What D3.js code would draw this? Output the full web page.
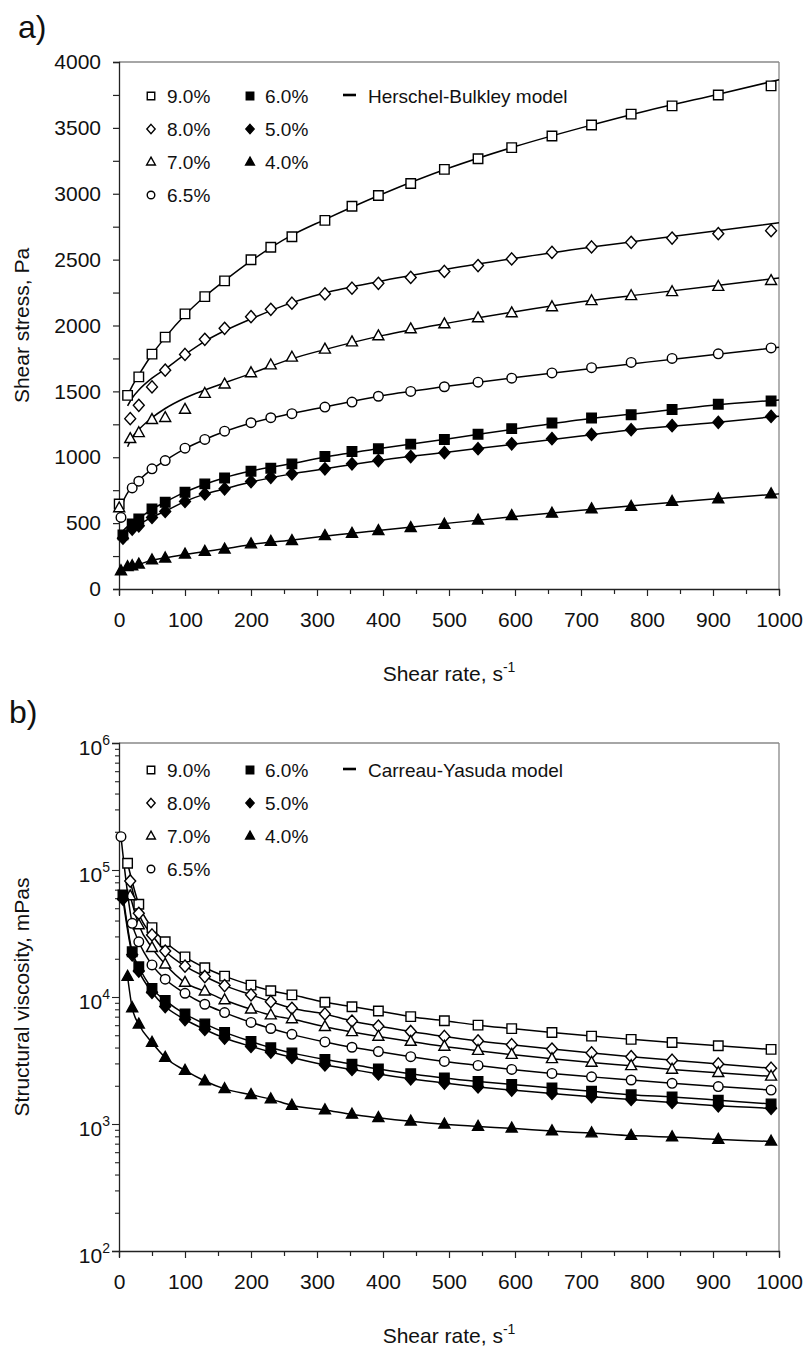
<!DOCTYPE html>
<html><head><meta charset="utf-8">
<script src="https://cdn.jsdelivr.net/npm/d3@7"></script>
<style>
body{margin:0;background:#fff}
svg text{font-family:"Liberation Sans",Arial,sans-serif;fill:#111}
</style>
</head><body>
<svg id="c" width="805" height="1350"></svg>
<script>
// ---------- data ----------
const RATES = [0.3, 3, 6, 13, 17, 20, 30, 50, 70, 100, 130, 160, 200, 230, 262, 312, 353, 393, 442, 493, 544, 595, 656, 716, 776, 838, 908, 988];
const LABELS = ["9.0%", "8.0%", "7.0%", "6.5%", "6.0%", "5.0%", "4.0%"];
const SHAPES = ["square", "diamond", "triangle", "circle", "square", "diamond", "triangle"];
const FILLED = [false, false, false, false, true, true, true];
const X_TICK_LABELS = [0, 100, 200, 300, 400, 500, 600, 700, 800, 900, 1000];
const Y_TICK_LABELS_A = [0, 500, 1000, 1500, 2000, 2500, 3000, 3500, 4000];
const Y_DECADES_B = [100, 1000, 10000, 100000, 1000000];

// panel a: shear stress, Pa
const stress90 = [645, null, null, 1470, null, null, 1610, 1783, 1912, 2088, 2219, 2339, 2499, 2594, 2674, 2798, 2905, 2987, 3078, 3185, 3266, 3350, 3438, 3522, 3604, 3667, 3749, 3819];
const stress80 = [null, null, null, null, 1293, null, 1394, 1534, 1661, 1780, 1895, 1979, 2067, 2123, 2169, 2240, 2283, 2320, 2365, 2410, 2455, 2505, 2555, 2596, 2631, 2664, 2697, 2720];
const stress70 = [615, null, null, null, 1140, null, 1185, 1285, 1300, 1362, 1483, 1554, 1640, 1699, 1758, 1819, 1874, 1920, 1973, 2011, 2057, 2095, 2141, 2187, 2225, 2255, 2295, 2340];
const stress65 = [null, 543, null, null, null, 767, 818, 912, 975, 1069, 1135, 1198, 1262, 1300, 1331, 1381, 1419, 1463, 1500, 1535, 1570, 1600, 1640, 1680, 1720, 1750, 1785, 1830];
const stress60 = [null, null, 411, null, null, 493, 531, 607, 658, 734, 798, 843, 894, 917, 950, 1006, 1044, 1064, 1100, 1135, 1175, 1217, 1260, 1298, 1323, 1362, 1402, 1427];
const stress50 = [null, null, 386, null, null, 455, 480, 543, 589, 665, 722, 760, 815, 848, 874, 912, 950, 975, 1005, 1035, 1065, 1102, 1141, 1173, 1209, 1240, 1265, 1310];
const stress40 = [null, 137, null, 168, null, 175, 188, 219, 234, 264, 284, 302, 341, 360, 366, 404, 421, 442, 465, 490, 522, 556, 574, 607, 625, 663, 683, 721];

// Herschel-Bulkley model curves
const MODEL_RATES_A = [0, 3, 6, 13, 20, 30, 50, 70, 100, 130, 160, 200, 260, 310, 400, 500, 600, 700, 800, 900, 1000];
const hb90 = [null, null, null, 1470, 1540, 1625, 1780, 1910, 2080, 2220, 2340, 2490, 2680, 2800, 3000, 3195, 3358, 3500, 3630, 3745, 3865];
const hb80 = [null, null, null, 1390, 1450, 1510, 1600, 1670, 1780, 1880, 1960, 2050, 2170, 2245, 2340, 2430, 2510, 2585, 2650, 2715, 2780];
const hb70 = [null, null, null, 1080, 1150, 1210, 1300, 1370, 1450, 1510, 1565, 1635, 1745, 1815, 1925, 2020, 2105, 2180, 2240, 2300, 2360];
const hb65 = [null, 543, 650, 730, 775, 825, 910, 975, 1065, 1135, 1195, 1260, 1330, 1380, 1468, 1540, 1605, 1665, 1722, 1778, 1835];
const hb60 = [395, 420, 440, 475, 500, 535, 605, 660, 735, 795, 845, 895, 950, 1000, 1070, 1140, 1215, 1285, 1340, 1395, 1435];
const hb50 = [370, 395, 415, 445, 470, 490, 545, 590, 665, 720, 760, 812, 872, 910, 980, 1040, 1100, 1162, 1220, 1262, 1312];
const hb40 = [125, 140, 150, 165, 176, 188, 218, 236, 262, 285, 305, 338, 370, 400, 447, 500, 550, 597, 641, 683, 722];

// panel b: structural viscosity, mPas
const visc90 = [null, null, null, 113000, null, null, 53700, 35200, 27200, 20700, 17000, 14600, 12400, 11200, 10400, 9080, 8390, 7760, 7000, 6500, 6000, 5640, 5250, 4920, 4640, 4380, 4130, 3870];
const visc80 = [null, null, null, null, 81900, null, 45600, 30800, 23000, 17500, 14500, 12300, 10400, 9190, 8150, 7350, 6470, 5900, 5350, 4890, 4510, 4210, 3890, 3630, 3390, 3180, 2970, 2750];
const visc70 = [null, null, null, null, 62400, null, 36900, 24400, 18100, 13000, 11100, 9470, 8000, 7200, 6710, 5830, 5310, 4890, 4460, 4080, 3780, 3520, 3260, 3050, 2870, 2690, 2530, 2370];
const visc65 = [null, 183000, null, null, null, 38000, 27200, 17900, 13800, 10700, 8770, 7540, 6310, 5650, 5080, 4430, 4020, 3720, 3390, 3110, 2890, 2690, 2500, 2350, 2220, 2090, 1970, 1850];
const visc60 = [null, null, 63500, null, null, 22700, 17300, 11700, 9400, 7340, 6140, 5270, 4470, 3990, 3630, 3220, 2960, 2710, 2490, 2300, 2160, 2050, 1920, 1810, 1700, 1630, 1540, 1440];
const visc50 = [null, null, 59000, null, null, 21500, 16000, 10900, 8410, 6650, 5550, 4750, 4080, 3690, 3340, 2920, 2690, 2480, 2270, 2100, 1960, 1850, 1740, 1640, 1560, 1480, 1390, 1330];
const visc40 = [null, null, null, 14500, null, 8200, 6100, 4380, 3340, 2640, 2180, 1890, 1700, 1570, 1400, 1290, 1190, 1120, 1050, 994, 955, 925, 880, 848, 810, 790, 755, 730];

const STRESS = [stress90, stress80, stress70, stress65, stress60, stress50, stress40];
const HB = [hb90, hb80, hb70, hb65, hb60, hb50, hb40];
const VISC = [visc90, visc80, visc70, visc65, visc60, visc50, visc40];

// ---------- layout ----------
const svg = d3.select("#c");
const X0 = 119, X1 = 779;
const PA = {top: 62, bottom: 589};
const PB = {top: 743, bottom: 1251};

const x = d3.scaleLinear().domain([0, 1000]).range([X0, X1]);
const yA = d3.scaleLinear().domain([0, 4000]).range([PA.bottom, PA.top]);
const yB = d3.scaleLog().domain([100, 1e6]).range([PB.bottom, PB.top]);

function markerPath(shape, s) {
  const p = d3.path();
  if (shape === "square") { p.rect(-s / 2, -s / 2, s, s); }
  else if (shape === "diamond") { p.moveTo(0, -s * 0.58); p.lineTo(s * 0.52, 0); p.lineTo(0, s * 0.58); p.lineTo(-s * 0.52, 0); p.closePath(); }
  else if (shape === "triangle") { const h = s * 0.9; p.moveTo(0, -h * 0.62); p.lineTo(s / 2, h * 0.38); p.lineTo(-s / 2, h * 0.38); p.closePath(); }
  else { p.arc(0, 0, s / 2, 0, 2 * Math.PI); }
  return p.toString();
}
const MSIZE = {square: 9.5, diamond: 10.5, triangle: 11, circle: 9.6};
const LSIZE = {square: 7.5, diamond: 8, triangle: 8.8, circle: 7.6};

function frame(P) {
  const g = svg.append("g");
  g.append("line").attr("x1", X0).attr("x2", X1).attr("y1", P.top).attr("y2", P.top).attr("stroke", "#888").attr("stroke-width", 1.3);
  g.append("line").attr("x1", X1).attr("x2", X1).attr("y1", P.top).attr("y2", P.bottom).attr("stroke", "#888").attr("stroke-width", 1.3);
}

function xAxis(P) {
  const gx = svg.append("g").attr("transform", `translate(0,${P.bottom})`)
    .call(d3.axisBottom(x).tickValues(d3.range(0, 1001, 50)).tickSize(6).tickPadding(17)
      .tickFormat(d => X_TICK_LABELS.includes(d) ? d : ""));
  gx.select(".domain").attr("stroke", "#222").attr("stroke-width", 1.3);
  gx.selectAll(".tick line").attr("stroke", "#222").attr("stroke-width", 1.2)
    .attr("y2", d => d % 100 === 0 ? 7 : 5);
  gx.selectAll(".tick text").attr("font-size", 21).attr("fill", "#111").style("font-family", "Liberation Sans, Arial, sans-serif");
  const t = svg.append("text").attr("x", (X0 + X1) / 2).attr("y", P.bottom + 92)
    .attr("text-anchor", "middle").attr("font-size", 21);
  t.append("tspan").text("Shear rate, s");
  t.append("tspan").attr("dy", -9).attr("font-size", 14).text("-1");
}

function drawSeries(P, y, rates, arrs, lineArrs, lineRates) {
  const gl = svg.append("g");
  const line = d3.line().defined(d => d[1] != null).x(d => x(d[0])).y(d => y(d[1])).curve(d3.curveMonotoneX);
  lineArrs.forEach(arr => {
    const pts = lineRates.map((r, i) => [r, arr[i]]).filter(d => d[1] != null);
    gl.append("path").attr("d", line(pts)).attr("fill", "none").attr("stroke", "#000").attr("stroke-width", 1.5);
  });
  const gm = svg.append("g");
  arrs.forEach((arr, k) => {
    const pts = rates.map((r, i) => [r, arr[i]]).filter(d => d[1] != null);
    gm.selectAll(null).data(pts).enter().append("path")
      .attr("transform", d => `translate(${x(d[0])},${y(d[1])})`)
      .attr("d", markerPath(SHAPES[k], MSIZE[SHAPES[k]]))
      .attr("fill", FILLED[k] ? "#000" : "#fff")
      .attr("stroke", "#000").attr("stroke-width", 1.4);
  });
}

function legend(rowY0, modelName) {
  const g = svg.append("g");
  const colMx = [151, 250], colTx = [167, 265], step = 33;
  LABELS.forEach((lab, k) => {
    const col = k < 4 ? 0 : 1, row = k < 4 ? k : k - 4;
    const yy = rowY0 + row * step;
    g.append("path").attr("transform", `translate(${colMx[col]},${yy})`)
      .attr("d", markerPath(SHAPES[k], LSIZE[SHAPES[k]]))
      .attr("fill", FILLED[k] ? "#000" : "#fff").attr("stroke", "#000").attr("stroke-width", 1.4);
    g.append("text").attr("x", colTx[col]).attr("y", yy).attr("dy", "0.36em").attr("font-size", 19).text(lab);
  });
  g.append("line").attr("x1", 343).attr("x2", 356).attr("y1", rowY0 - 1).attr("y2", rowY0 - 1).attr("stroke", "#000").attr("stroke-width", 2.6);
  g.append("text").attr("x", 368).attr("y", rowY0).attr("dy", "0.36em").attr("font-size", 19).text(modelName);
}

// ---------- panel a ----------
frame(PA);
const gyA = svg.append("g").attr("transform", `translate(${X0},0)`)
  .call(d3.axisLeft(yA).tickValues(d3.range(0, 4001, 250)).tickSize(6).tickPadding(12)
    .tickFormat(d => Y_TICK_LABELS_A.includes(d) ? d : ""));
gyA.select(".domain").attr("stroke", "#222").attr("stroke-width", 1.3);
gyA.selectAll(".tick line").attr("stroke", "#222").attr("stroke-width", 1.2);
gyA.selectAll(".tick text").attr("font-size", 21).attr("fill", "#111").style("font-family", "Liberation Sans, Arial, sans-serif");
xAxis(PA);
drawSeries(PA, yA, RATES, STRESS, HB, MODEL_RATES_A);
legend(96, "Herschel-Bulkley model");
svg.append("text").attr("x", 18).attr("y", 38).attr("font-size", 32).text("a)");
svg.append("text").attr("transform", `translate(29,${(PA.top + PA.bottom) / 2}) rotate(-90)`)
  .attr("text-anchor", "middle").attr("font-size", 21).text("Shear stress, Pa");

// ---------- panel b ----------
frame(PB);
const minorB = [];
Y_DECADES_B.forEach((d, i) => { if (i < Y_DECADES_B.length - 1) for (let m = 2; m <= 9; m++) minorB.push(d * m); });
const gyB = svg.append("g").attr("transform", `translate(${X0},0)`)
  .call(d3.axisLeft(yB).tickValues(Y_DECADES_B.concat(minorB)).tickSize(7).tickPadding(9).tickFormat(""));
gyB.select(".domain").attr("stroke", "#222").attr("stroke-width", 1.3);
gyB.selectAll(".tick line").attr("stroke", "#222").attr("stroke-width", 1.1)
  .attr("x2", d => Y_DECADES_B.includes(d) ? -7 : -4);
const lb = svg.append("g");
Y_DECADES_B.forEach(d => {
  const t = lb.append("text").attr("x", 110).attr("y", yB(d) + 12).attr("text-anchor", "end").attr("font-size", 21);
  t.append("tspan").text("10");
  t.append("tspan").attr("dy", -10).attr("font-size", 14).text(String(Math.round(Math.log10(d))));
});
xAxis(PB);
drawSeries(PB, yB, RATES, VISC, VISC, RATES);
legend(770, "Carreau-Yasuda model");
svg.append("text").attr("x", 9).attr("y", 723).attr("font-size", 32).text("b)");
svg.append("text").attr("transform", `translate(29,${(PB.top + PB.bottom) / 2}) rotate(-90)`)
  .attr("text-anchor", "middle").attr("font-size", 21).text("Structural viscosity, mPas");
</script>
</body></html>
